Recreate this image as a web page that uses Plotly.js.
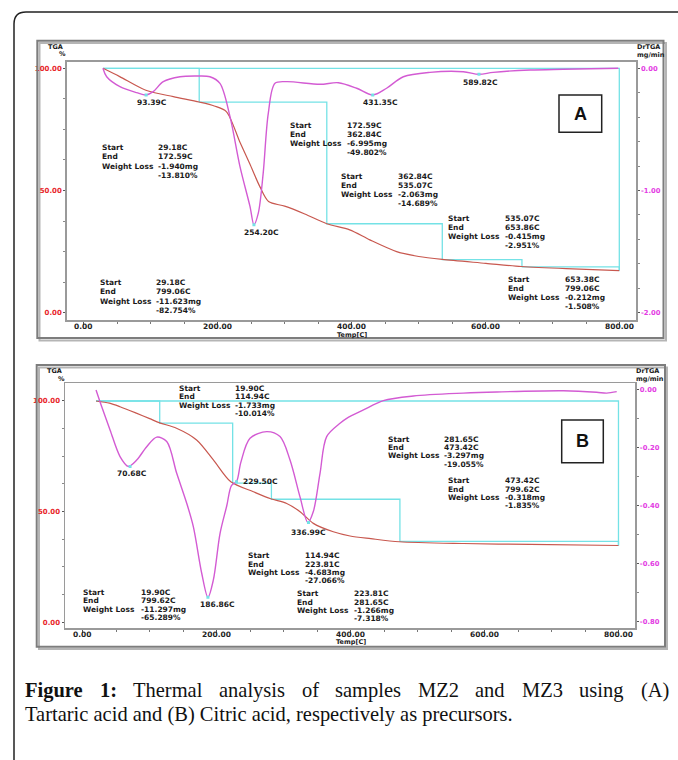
<!DOCTYPE html>
<html><head><meta charset="utf-8">
<script src="https://cdn.plot.ly/plotly-3.0.1.min.js"></script>
<style>html,body{margin:0;padding:0;background:#fff;}#chart{width:678px;height:760px;}</style>
</head><body><div id="chart"></div>
<script>
// ---------- DATA ----------
// Panel A (MZ2, tartaric acid)
const tgaA_T = [29.2, 54, 93, 134, 172.6, 195, 213, 233, 248, 263, 276, 300, 330, 362.8, 397, 427, 467, 500, 535, 600, 653, 720, 799];
const tgaA_W = [100, 96.6, 91, 88.4, 86.2, 84.6, 82.3, 70, 60.9, 51.6, 45.5, 43.6, 40.4, 36.4, 33.9, 29.8, 25.0, 23.0, 21.8, 20.2, 18.9, 18.0, 17.25];
const dtgA_T = [29, 34.6, 54.4, 79.3, 93.4, 104, 119, 144, 168.8, 188.6, 203.5, 218.5, 233.4, 248.3, 254.2, 260.7, 268, 275.6, 285.6, 303, 352.7, 380, 407.4, 431.4, 452, 477, 516.7, 566.4, 589.8, 611, 666, 715.5, 797.5];
const dtgA_V = [0, -0.069, -0.150, -0.199, -0.218, -0.191, -0.109, -0.069, -0.063, -0.069, -0.123, -0.395, -0.804, -1.13, -1.28, -1.185, -0.858, -0.368, -0.123, -0.109, -0.131, -0.118, -0.163, -0.218, -0.163, -0.069, -0.033, -0.028, -0.049, -0.033, -0.014, -0.008, 0];
const peaksA_T = [93.39, 254.20, 431.35, 589.82];
const peaksA_V = [-0.218, -1.28, -0.218, -0.049];
const stepsA_start = [29.18, 172.59, 362.84, 535.07, 653.38];
const stepsA_end   = [172.59, 362.84, 535.07, 653.86, 799.06];
const stepsA_mg    = [1.940, 6.995, 2.063, 0.415, 0.212];
const stepsA_pct   = [13.810, 49.802, 14.689, 2.951, 1.508];
const totalA = {start: 29.18, end: 799.06, mg: 11.623, pct: 82.754};

// Panel B (MZ3, citric acid)
const tgaB_T = [19.9, 40, 55.7, 80, 100, 114.9, 140, 170, 195, 221, 254.7, 280.6, 304.5, 324.4, 344.2, 374, 399, 430, 472.6, 568, 667.7, 799.6];
const tgaB_W = [100, 99.0, 97.4, 94.5, 92, 90.1, 87.7, 82.4, 73.4, 63.5, 59.0, 55.8, 53.7, 50, 44.7, 40.9, 39, 37.8, 36.4, 35.6, 35.2, 34.7];
const dtgB_T = [19.9, 28.4, 40.8, 55.7, 68, 80.6, 95.5, 110.5, 125.4, 140.3, 155.2, 165.1, 177.6, 186.9, 195, 205, 215, 222, 229.5, 236, 249.7, 274.6, 294.5, 309.4, 324.4, 336, 344.2, 354.2, 364.1, 384, 394, 419, 448.7, 493.5, 568, 618, 717.5, 767, 782, 797];
const dtgB_V = [0, -0.058, -0.138, -0.23, -0.264, -0.242, -0.196, -0.163, -0.178, -0.288, -0.391, -0.472, -0.633, -0.716, -0.656, -0.495, -0.40, -0.33, -0.317, -0.25, -0.167, -0.144, -0.161, -0.242, -0.37, -0.458, -0.42, -0.288, -0.161, -0.115, -0.098, -0.069, -0.037, -0.021, -0.011, -0.007, -0.003, -0.008, -0.011, -0.006];
const peaksB_T = [70.68, 186.86, 229.50, 336.99];
const peaksB_V = [-0.264, -0.716, -0.317, -0.458];
const stepsB_start = [19.90, 114.94, 223.81, 281.65, 473.42];
const stepsB_end   = [114.94, 223.81, 281.65, 473.42, 799.62];
const stepsB_mg    = [1.733, 4.683, 1.266, 3.297, 0.318];
const stepsB_pct   = [10.014, 27.066, 7.318, 19.055, 1.835];
const totalB = {start: 19.90, end: 799.62, mg: 11.297, pct: 65.289};

// Tick labels
const xTickVals = [0, 200, 400, 600, 800];
const xTickText = ['0.00', '200.00', '400.00', '600.00', '800.00'];
const tgaTickVals = [0, 50, 100];
const tgaTickText = ['0.00', '50.00', '100.00'];
const dtgA_TickVals = [0, -1, -2];
const dtgA_TickText = ['0.00', '-1.00', '-2.00'];
const dtgB_TickVals = [0, -0.2, -0.4, -0.6, -0.8];
const dtgB_TickText = ['0.00', '-0.20', '-0.40', '-0.60', '-0.80'];
const rowLabels = ['Start', 'End', 'Weight Loss'];
const panelLetters = ['A', 'B'];
const captionBold = 'Figure 1:';
const captionLine1 = 'Thermal analysis of samples MZ2 and MZ3 using (A)';
const captionLine2 = 'Tartaric acid and (B) Citric acid, respectively as precursors.';

// ---------- STYLE / LAYOUT HELPERS ----------
const W = 678, H = 760;
const fx = x => x / W, fy = y => 1 - y / H;
const C_TGA = '#c8584f', C_DTG = '#d35bd3', C_CYAN = '#74e2e6';
const SANS = 'DejaVu Sans, Verdana, sans-serif';
const smallFont = {family: SANS, size: 7.5, color: '#1a1a1a', weight: 'bold'};

function txt(x, y, text, font, xanchor) {
  return {xref: 'paper', yref: 'paper', x: fx(x), y: fy(y), text: text, showarrow: false,
          xanchor: xanchor || 'left', yanchor: 'middle', font: font || smallFont, borderpad: 0};
}

function stepPath(starts, ends, pcts, total) {
  const xs = [], ys = [];
  let level = 100;
  for (let i = 0; i < starts.length; i++) {
    xs.push(starts[i], ends[i]); ys.push(level, level);
    level -= pcts[i];
    xs.push(ends[i]); ys.push(level);
  }
  xs.push(null); ys.push(null);
  xs.push(total.start, total.end, total.end); ys.push(100, 100, 100 - total.pct);
  return {xs, ys};
}

function blockTexts(pos, rowGap, start, end, mg, pct) {
  const vals = [start.toFixed(2) + 'C', end.toFixed(2) + 'C', '-' + mg.toFixed(3) + 'mg', '-' + pct.toFixed(3) + '%'];
  const out = [];
  rowLabels.forEach((l, i) => out.push(txt(pos[0], pos[1] + i * rowGap, l)));
  vals.forEach((v, i) => out.push(txt(pos[2], pos[1] + i * rowGap, v)));
  return out;
}

// ---------- TRACES ----------
const sA = stepPath(stepsA_start, stepsA_end, stepsA_pct, totalA);
const sB = stepPath(stepsB_start, stepsB_end, stepsB_pct, totalB);
const traces = [
  {x: sA.xs, y: sA.ys, xaxis: 'x', yaxis: 'y', mode: 'lines', line: {color: C_CYAN, width: 1.3}},
  {x: tgaA_T, y: tgaA_W, xaxis: 'x', yaxis: 'y', mode: 'lines', line: {color: C_TGA, width: 1.2, shape: 'spline', smoothing: 0.8}},
  {x: dtgA_T, y: dtgA_V, xaxis: 'x', yaxis: 'y2', mode: 'lines', line: {color: C_DTG, width: 1.4, shape: 'spline', smoothing: 0.9}},
  {x: peaksA_T, y: peaksA_V, xaxis: 'x', yaxis: 'y2', mode: 'markers', marker: {color: C_CYAN, size: 3, symbol: 'square'}},
  {x: sB.xs, y: sB.ys, xaxis: 'x2', yaxis: 'y3', mode: 'lines', line: {color: C_CYAN, width: 1.3}},
  {x: tgaB_T, y: tgaB_W, xaxis: 'x2', yaxis: 'y3', mode: 'lines', line: {color: C_TGA, width: 1.2, shape: 'spline', smoothing: 0.8}},
  {x: dtgB_T, y: dtgB_V, xaxis: 'x2', yaxis: 'y4', mode: 'lines', line: {color: C_DTG, width: 1.4, shape: 'spline', smoothing: 0.9}},
  {x: peaksB_T, y: peaksB_V, xaxis: 'x2', yaxis: 'y4', mode: 'markers', marker: {color: C_CYAN, size: 3, symbol: 'square'}}
];

// ---------- AXES ----------
const tickFont = {family: SANS, size: 7.5, color: '#222', weight: 'bold'};
function xAx(domain, range, anchor) {
  return {domain, range, anchor, tickmode: 'array', tickvals: xTickVals, ticktext: xTickText, showticklabels: false,
    ticks: 'outside', ticklen: 3, tickcolor: '#555', showgrid: false, zeroline: false,
    showline: true, mirror: true, linecolor: '#9a9a9a', linewidth: 1.5,
    minor: {tick0: 0, dtick: 50, ticks: 'outside', ticklen: 2, tickcolor: '#777', showgrid: false}};
}
function yLeft(domain, range, anchor) {
  return {domain, range, anchor, tickmode: 'array', tickvals: tgaTickVals, ticktext: tgaTickText,
    ticks: 'outside', ticklen: 2, tickcolor: '#555', tickfont: Object.assign({}, tickFont, {size: 7, color: '#e8262b'}),
    showgrid: false, zeroline: false, showline: true, mirror: true, linecolor: '#9a9a9a', linewidth: 1.5,
    minor: {dtick: 12.5, ticks: 'outside', ticklen: 2, tickcolor: '#888', showgrid: false}};
}
function yRight(overlay, range, anchor, vals, text, mdt) {
  return {overlaying: overlay, side: 'right', anchor, range, tickmode: 'array', tickvals: vals, ticktext: text,
    ticks: 'outside', ticklen: 2, tickcolor: '#555', tickfont: Object.assign({}, tickFont, {size: 6.8, color: '#e33be3'}),
    showgrid: false, zeroline: false, showline: true, linecolor: '#9a9a9a', linewidth: 1.5,
    minor: {dtick: mdt, ticks: 'outside', ticklen: 2, tickcolor: '#888', showgrid: false}};
}

// ---------- ANNOTATIONS ----------
const ann = [];
const titleFont = Object.assign({}, smallFont, {size: 6.5});
ann.push(txt(55, 46.5, 'TGA', titleFont, 'center'), txt(62, 54.5, '%', titleFont, 'center'));
ann.push(txt(648, 47, 'DrTGA', titleFont, 'center'), txt(651, 55, 'mg/min', titleFont, 'center'));
ann.push(txt(352, 334.5, 'Temp[C]', titleFont, 'center'));
ann.push(txt(54, 370.5, 'TGA', titleFont, 'center'), txt(61, 378.5, '%', titleFont, 'center'));
ann.push(txt(647, 371, 'DrTGA', titleFont, 'center'), txt(650, 379, 'mg/min', titleFont, 'center'));
ann.push(txt(351, 642, 'Temp[C]', titleFont, 'center'));

// x tick labels, placed on the data scale
xTickVals.forEach((v, i) => {
  ann.push({xref: 'x', yref: 'paper', x: v, y: fy(326.5), text: xTickText[i], showarrow: false, yanchor: 'middle', font: tickFont, borderpad: 0});
  ann.push({xref: 'x2', yref: 'paper', x: v, y: fy(634), text: xTickText[i], showarrow: false, yanchor: 'middle', font: tickFont, borderpad: 0});
});

// peak labels (data anchored)
const peakShiftA = [[6, -8], [8, -8], [8, -8], [2, -8]];
peaksA_T.forEach((t, i) => ann.push({xref: 'x', yref: 'y2', x: t, y: peaksA_V[i], text: t.toFixed(2) + 'C',
  showarrow: false, xshift: peakShiftA[i][0], yshift: peakShiftA[i][1], yanchor: 'middle', font: smallFont, borderpad: 0}));
const peakShiftB = [[2, -7], [10, -7], [24, 0], [0, -10]];
peaksB_T.forEach((t, i) => ann.push({xref: 'x2', yref: 'y4', x: t, y: peaksB_V[i], text: t.toFixed(2) + 'C',
  showarrow: false, xshift: peakShiftB[i][0], yshift: peakShiftB[i][1], yanchor: 'middle', font: smallFont, borderpad: 0}));

// step blocks
const posA = [[101, 147.7, 157.3], [289, 125, 346], [340, 176, 396.7], [447.3, 218.3, 504], [507.3, 279.3, 564]];
stepsA_start.forEach((s, i) => ann.push(...blockTexts(posA[i], 9.2, s, stepsA_end[i], stepsA_mg[i], stepsA_pct[i])));
ann.push(...blockTexts([99, 282.7, 155], 9.2, totalA.start, totalA.end, totalA.mg, totalA.pct));
const posB = [[177.7, 388.3, 234.3], [247.3, 555.7, 304], [296, 593.7, 353.3], [387.3, 439, 443.3], [447.3, 480.7, 504]];
stepsB_start.forEach((s, i) => ann.push(...blockTexts(posB[i], 8.4, s, stepsB_end[i], stepsB_mg[i], stepsB_pct[i])));
ann.push(...blockTexts([82.3, 592.3, 140], 8.5, totalB.start, totalB.end, totalB.mg, totalB.pct));

// panel letters
const letterFont = {family: 'Liberation Sans, Arial, sans-serif', size: 18, color: '#111', weight: 'bold'};
ann.push(txt(580.3, 114, panelLetters[0], letterFont, 'center'));
ann.push(txt(582.5, 441.5, panelLetters[1], letterFont, 'center'));

// caption words (positions justified after first render)
const SERIF = 'Liberation Serif';
const S0 = 17;
const words1 = captionBold.split(' ').map(w => ({w, b: true})).concat(captionLine1.split(' ').map(w => ({w, b: false})));
const capIdx = [];
words1.forEach(o => {
  capIdx.push(ann.length);
  ann.push(txt(24, 690, o.w, {family: SERIF, size: S0, color: '#111', weight: o.b ? 'bold' : 'normal'}, 'left'));
});
const line2Idx = ann.length;
ann.push(txt(24, 714, captionLine2, {family: SERIF, size: S0, color: '#111'}, 'left'));

// ---------- SHAPES ----------
const shapes = [];
function rectPx(x0, y0, x1, y1, line, layer) {
  return {type: 'rect', xref: 'paper', yref: 'paper', x0: fx(x0), y0: fy(y1), x1: fx(x1), y1: fy(y0), line, layer: layer || 'above'};
}
shapes.push({type: 'path', xref: 'paper', yref: 'paper', layer: 'above', line: {color: '#222', width: 1.5},
  path: `M ${fx(14)},${fy(770)} L ${fx(14)},${fy(24)} Q ${fx(14)},${fy(12)} ${fx(26)},${fy(12)} L ${fx(700)},${fy(12)}`});
shapes.push(rectPx(39.5, 43, 666, 340.5, {color: '#b5b5b5', width: 2}, 'below'));
shapes.push(rectPx(37.3, 40.7, 663.5, 338, {color: '#7d7d7d', width: 2}));
shapes.push(rectPx(39, 367.5, 667, 649, {color: '#b5b5b5', width: 2}, 'below'));
shapes.push(rectPx(36.7, 365, 665, 646.7, {color: '#7d7d7d', width: 2}));
shapes.push(rectPx(559, 95, 601.7, 132.3, {color: '#222', width: 1.5}));
shapes.push(rectPx(561.7, 420, 603.3, 462.7, {color: '#222', width: 1.5}));

const layout = {
  width: W, height: H, margin: {l: 0, r: 0, t: 0, b: 0}, showlegend: false,
  paper_bgcolor: '#fff', plot_bgcolor: 'rgba(0,0,0,0)',
  xaxis: xAx([0.0984, 0.9381], [-25, 824], 'y'),
  yaxis: yLeft([0.5789, 0.9188], [-3, 102.7], 'x'),
  yaxis2: yRight('y', [-2.06, 0.054], 'x', dtgA_TickVals, dtgA_TickText, 0.2),
  xaxis2: xAx([0.0959, 0.9366], [-26.4, 824.3], 'y3'),
  yaxis3: yLeft([0.1733, 0.4957], [-2.7, 108], 'x2'),
  yaxis4: yRight('y3', [-0.823, 0.023], 'x2', dtgB_TickVals, dtgB_TickText, 0.1),
  annotations: ann, shapes: shapes
};

Plotly.newPlot('chart', traces, layout, {staticPlot: true, displayModeBar: false}).then(gd => {
  const texts = {};
  gd.querySelectorAll('g.annotation').forEach(g => {
    const t = g.querySelector('text.annotation-text');
    if (t) texts[g.getAttribute('data-index')] = t;
  });
  const w2 = texts[line2Idx] ? texts[line2Idx].getBBox().width : 0;
  if (!w2) return;
  const S = S0 * 488 / w2;
  const widths = capIdx.map(i => texts[i].getBBox().width * S / S0);
  const sum = widths.reduce((a, b) => a + b, 0);
  const gap = (668 - 24 - sum) / (capIdx.length - 1);
  const upd = {};
  let cx = 24;
  capIdx.forEach((idx, k) => {
    upd[`annotations[${idx}].x`] = fx(cx);
    upd[`annotations[${idx}].font.size`] = S;
    cx += widths[k] + gap;
  });
  upd[`annotations[${line2Idx}].font.size`] = S;
  return Plotly.relayout(gd, upd);
});
</script></body></html>
